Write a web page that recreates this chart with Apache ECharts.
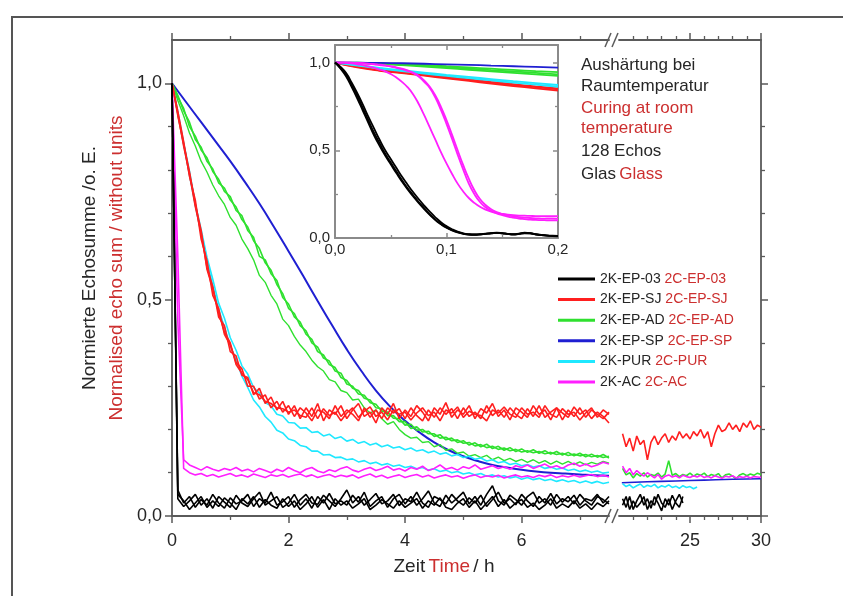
<!DOCTYPE html>
<html>
<head>
<meta charset="utf-8">
<script src="https://cdn.jsdelivr.net/npm/echarts@6/dist/echarts.min.js"></script>
<style>
  html, body { margin: 0; padding: 0; background: #ffffff; }
  #chart { width: 843px; height: 596px; }
</style>
</head>
<body>
<div id="chart"></div>
<script>
// ---- time bases (hours) ----
const tMain = [
  0.0,0.1,0.2,0.3,0.4,0.5,0.6,0.7,0.8,0.9,
  1.0,1.1,1.2,1.3,1.4,1.5,1.6,1.7,1.8,1.9,
  2.0,2.1,2.2,2.3,2.4,2.5,2.6,2.7,2.8,2.9,
  3.0,3.1,3.2,3.3,3.4,3.5,3.6,3.7,3.8,3.9,
  4.0,4.1,4.2,4.3,4.4,4.5,4.6,4.7,4.8,4.9,
  5.0,5.1,5.2,5.3,5.4,5.5,5.6,5.7,5.8,5.9,
  6.0,6.1,6.2,6.3,6.4,6.5,6.6,6.7,6.8,6.9,
  7.0,7.1,7.2,7.3,7.4,7.5];
const tCoarse = [0,0.25,0.5,0.75,1,1.25,1.5,1.75,2,2.25,2.5,2.75,3,3.25,3.5,3.75,4,4.25,4.5,4.75,5,5.25,5.5,5.75,6,6.25,6.5,6.75,7,7.25,7.5];
const tRight = [
  20.25,20.5,20.75,21,21.25,21.5,21.75,22,22.25,22.5,
  22.75,23,23.25,23.5,23.75,24,24.25,24.5,24.75,25,
  25.25,25.5,25.75,26,26.25,26.5,26.75,27,27.25,27.5,
  27.75,28,28.25,28.5,28.75,29,29.25,29.5,29.75,30];
const tRightBlue = [20.2,22,24,26,28,30];
const tInset = [
  0,0.005,0.01,0.015,0.02,0.025,0.03,0.035,0.04,0.045,
  0.05,0.055,0.06,0.065,0.07,0.075,0.08,0.085,0.09,0.095,
  0.1,0.105,0.11,0.115,0.12,0.125,0.13,0.135,0.14,0.145,
  0.15,0.155,0.16,0.165,0.17,0.175,0.18,0.185,0.19,0.195,0.2];
const tInsetCoarse = [0,0.02,0.04,0.06,0.08,0.1,0.12,0.14,0.16,0.18,0.2];

// ---- 2K-EP-03 (black) ----
const k1 = [1.0,0.06,0.03,0.045,0.02,0.038,0.025,0.05,0.03,0.018,
  0.042,0.028,0.035,0.05,0.022,0.04,0.03,0.055,0.025,0.033,
  0.045,0.02,0.038,0.05,0.03,0.027,0.048,0.035,0.022,0.04,
  0.06,0.03,0.045,0.025,0.038,0.052,0.028,0.035,0.05,0.024,
  0.04,0.033,0.055,0.03,0.02,0.045,0.038,0.028,0.05,0.035,
  0.025,0.042,0.03,0.048,0.022,0.038,0.055,0.03,0.04,0.026,
  0.05,0.035,0.022,0.045,0.03,0.052,0.028,0.04,0.033,0.048,
  0.025,0.04,0.035,0.05,0.03,0.045];
const k2 = [1.0,0.04,0.022,0.035,0.05,0.025,0.04,0.018,0.045,0.032,
  0.02,0.048,0.03,0.022,0.04,0.055,0.025,0.035,0.045,0.02,
  0.03,0.05,0.025,0.04,0.018,0.045,0.03,0.052,0.028,0.035,
  0.025,0.048,0.032,0.055,0.022,0.035,0.045,0.02,0.04,0.05,
  0.028,0.045,0.025,0.04,0.058,0.03,0.022,0.048,0.03,0.042,
  0.055,0.028,0.045,0.025,0.05,0.07,0.035,0.025,0.048,0.038,
  0.025,0.045,0.055,0.03,0.04,0.025,0.05,0.032,0.045,0.028,
  0.05,0.035,0.025,0.045,0.038,0.028];
const k3 = [1.0,0.05,0.035,0.015,0.03,0.045,0.02,0.035,0.022,0.042,
  0.03,0.015,0.04,0.028,0.045,0.02,0.038,0.025,0.018,0.04,
  0.022,0.035,0.015,0.028,0.045,0.02,0.038,0.015,0.04,0.025,
  0.035,0.018,0.028,0.04,0.015,0.025,0.038,0.028,0.018,0.035,
  0.02,0.03,0.04,0.018,0.035,0.025,0.042,0.02,0.015,0.03,
  0.04,0.02,0.035,0.015,0.03,0.045,0.022,0.038,0.018,0.03,
  0.038,0.02,0.03,0.015,0.025,0.04,0.018,0.028,0.02,0.035,
  0.018,0.028,0.015,0.03,0.022,0.035];

// ---- 2K-EP-SJ (red) ----
const r1 = [1.0,0.93,0.855,0.79,0.715,0.655,0.575,0.53,0.46,0.44,
  0.38,0.37,0.325,0.32,0.28,0.295,0.26,0.275,0.245,0.265,
  0.235,0.255,0.225,0.25,0.23,0.26,0.22,0.245,0.235,0.255,
  0.225,0.245,0.26,0.23,0.24,0.215,0.25,0.235,0.26,0.225,
  0.245,0.23,0.255,0.24,0.22,0.25,0.235,0.262,0.228,0.245,
  0.235,0.255,0.225,0.248,0.238,0.26,0.23,0.245,0.222,0.25,
  0.24,0.228,0.255,0.235,0.245,0.222,0.25,0.238,0.228,0.252,
  0.235,0.245,0.225,0.24,0.23,0.215];
const r2 = [1.0,0.935,0.865,0.785,0.73,0.64,0.59,0.51,0.48,0.42,
  0.395,0.355,0.34,0.3,0.3,0.27,0.28,0.25,0.265,0.24,
  0.255,0.23,0.25,0.238,0.22,0.245,0.24,0.225,0.255,0.23,
  0.245,0.235,0.22,0.25,0.228,0.245,0.225,0.25,0.238,0.248,
  0.225,0.25,0.232,0.22,0.245,0.228,0.25,0.235,0.248,0.225,
  0.25,0.23,0.24,0.225,0.255,0.232,0.245,0.228,0.25,0.235,
  0.225,0.248,0.23,0.255,0.228,0.24,0.25,0.222,0.245,0.23,
  0.25,0.228,0.245,0.235,0.225,0.24];
const r3 = [1.0,0.925,0.86,0.795,0.72,0.66,0.57,0.525,0.47,0.425,
  0.4,0.35,0.33,0.315,0.285,0.28,0.265,0.26,0.25,0.248,
  0.24,0.245,0.232,0.228,0.25,0.225,0.248,0.232,0.24,0.22,
  0.238,0.25,0.228,0.242,0.252,0.23,0.24,0.222,0.245,0.235,
  0.24,0.222,0.238,0.25,0.232,0.24,0.22,0.245,0.238,0.252,
  0.228,0.242,0.235,0.232,0.22,0.245,0.238,0.252,0.235,0.228,
  0.25,0.235,0.24,0.228,0.255,0.235,0.228,0.248,0.235,0.24,
  0.222,0.238,0.25,0.228,0.245,0.235];

// ---- 2K-EP-AD (green) ----
const g1 = [1.0,0.968,0.942,0.9,0.878,0.846,0.828,0.796,0.778,0.75,
  0.738,0.706,0.694,0.66,0.644,0.6,0.592,0.56,0.544,0.505,
  0.49,0.46,0.448,0.42,0.408,0.38,0.372,0.35,0.343,0.32,
  0.313,0.295,0.29,0.272,0.268,0.25,0.248,0.232,0.232,0.218,
  0.218,0.202,0.206,0.194,0.196,0.184,0.188,0.176,0.18,0.17,
  0.174,0.164,0.169,0.16,0.166,0.156,0.161,0.152,0.158,0.149,
  0.155,0.147,0.153,0.145,0.151,0.143,0.149,0.141,0.147,0.139,
  0.145,0.137,0.143,0.136,0.142,0.134];
const g2 = [1.0,0.972,0.936,0.91,0.87,0.852,0.82,0.802,0.77,0.758,
  0.73,0.714,0.685,0.668,0.636,0.618,0.585,0.568,0.535,0.514,
  0.48,0.468,0.44,0.428,0.4,0.39,0.365,0.358,0.335,0.33,
  0.305,0.3,0.282,0.279,0.262,0.258,0.242,0.24,0.226,0.225,
  0.21,0.212,0.198,0.2,0.19,0.19,0.18,0.182,0.174,0.176,
  0.168,0.17,0.162,0.165,0.158,0.161,0.154,0.157,0.151,0.154,
  0.148,0.151,0.146,0.149,0.144,0.147,0.142,0.145,0.14,0.143,
  0.139,0.142,0.137,0.14,0.135,0.138];
const g3 = [1.0,0.96,0.925,0.885,0.855,0.82,0.795,0.765,0.74,0.72,
  0.69,0.672,0.64,0.618,0.592,0.556,0.54,0.51,0.49,0.455,
  0.44,0.415,0.395,0.38,0.36,0.345,0.335,0.315,0.31,0.29,
  0.285,0.268,0.27,0.25,0.238,0.245,0.225,0.212,0.218,0.2,
  0.188,0.18,0.182,0.17,0.172,0.16,0.165,0.152,0.155,0.145,
  0.148,0.138,0.142,0.135,0.14,0.13,0.136,0.128,0.133,0.126,
  0.131,0.124,0.13,0.122,0.128,0.12,0.127,0.12,0.126,0.119,
  0.125,0.118,0.124,0.12,0.126,0.122];

// ---- 2K-EP-SP (blue) ----
const b1 = [1.0,0.955,0.91,0.865,0.82,0.772,0.722,0.668,0.612,0.555,
  0.497,0.44,0.385,0.335,0.29,0.252,0.22,0.193,0.17,0.152,
  0.138,0.127,0.118,0.112,0.107,0.103,0.1,0.098,0.096,0.094,0.093];

// ---- 2K-PUR (cyan) ----
const c1 = [1.0,0.935,0.862,0.797,0.722,0.662,0.598,0.547,0.492,0.457,
  0.412,0.383,0.347,0.328,0.297,0.284,0.262,0.254,0.235,0.231,
  0.216,0.215,0.203,0.204,0.193,0.195,0.185,0.189,0.179,0.183,
  0.173,0.177,0.168,0.172,0.164,0.168,0.16,0.164,0.157,0.16,
  0.153,0.157,0.15,0.153,0.146,0.15,0.143,0.146,0.139,0.142,
  0.135,0.138,0.131,0.134,0.127,0.13,0.123,0.126,0.119,0.122,
  0.116,0.119,0.113,0.116,0.11,0.113,0.108,0.111,0.105,0.108,
  0.103,0.106,0.101,0.104,0.099,0.101];
const c2 = [1.0,0.928,0.858,0.788,0.718,0.652,0.588,0.532,0.478,0.437,
  0.393,0.362,0.323,0.297,0.268,0.252,0.23,0.217,0.198,0.192,
  0.178,0.174,0.163,0.16,0.15,0.15,0.141,0.142,0.135,0.136,
  0.13,0.132,0.125,0.128,0.121,0.124,0.118,0.121,0.115,0.118,
  0.112,0.115,0.109,0.112,0.106,0.109,0.103,0.106,0.1,0.103,
  0.097,0.1,0.095,0.098,0.092,0.095,0.09,0.093,0.088,0.091,
  0.085,0.089,0.084,0.087,0.082,0.085,0.08,0.084,0.079,0.082,
  0.077,0.081,0.076,0.08,0.075,0.078];

// ---- 2K-AC (magenta) ----
const m1 = [1.0,0.45,0.13,0.118,0.112,0.106,0.114,0.108,0.104,0.11,
  0.106,0.112,0.104,0.108,0.102,0.11,0.105,0.1,0.108,0.103,
  0.112,0.105,0.1,0.108,0.112,0.104,0.1,0.107,0.103,0.11,
  0.114,0.106,0.102,0.108,0.112,0.105,0.109,0.115,0.106,0.11,
  0.104,0.112,0.108,0.115,0.105,0.11,0.118,0.108,0.112,0.106,
  0.114,0.11,0.118,0.108,0.112,0.116,0.11,0.114,0.108,0.116,
  0.112,0.118,0.11,0.115,0.12,0.112,0.116,0.11,0.118,0.122,
  0.115,0.12,0.114,0.118,0.124,0.12];
const m2 = [1.0,0.6,0.11,0.1,0.095,0.098,0.092,0.096,0.09,0.094,
  0.098,0.092,0.095,0.09,0.097,0.093,0.089,0.095,0.092,0.096,
  0.09,0.094,0.097,0.091,0.095,0.089,0.093,0.096,0.09,0.094,
  0.091,0.095,0.088,0.093,0.097,0.09,0.094,0.088,0.092,0.095,
  0.089,0.093,0.096,0.09,0.094,0.088,0.092,0.095,0.09,0.093,
  0.087,0.092,0.095,0.089,0.093,0.09,0.094,0.088,0.092,0.095,
  0.09,0.093,0.089,0.094,0.091,0.095,0.089,0.093,0.09,0.094,
  0.09,0.093,0.096,0.091,0.094,0.09];

// ---- long-time section (20 h - 30 h) ----
const rLate = [0.19,0.16,0.18,0.15,0.185,0.165,0.175,0.13,0.17,0.185,
  0.165,0.18,0.19,0.17,0.185,0.175,0.195,0.18,0.19,0.178,
  0.195,0.185,0.2,0.18,0.195,0.16,0.19,0.21,0.195,0.2,
  0.215,0.2,0.21,0.195,0.215,0.205,0.22,0.2,0.21,0.205];
const gLate = [0.11,0.095,0.1,0.088,0.098,0.092,0.1,0.09,0.096,0.093,
  0.099,0.09,0.097,0.128,0.094,0.098,0.091,0.096,0.093,0.099,
  0.092,0.097,0.094,0.099,0.091,0.096,0.093,0.098,0.088,0.095,
  0.097,0.092,0.086,0.095,0.098,0.093,0.097,0.094,0.099,0.096];
const mLate = [0.115,0.1,0.11,0.095,0.105,0.098,0.092,0.1,0.094,0.088,
  0.096,0.085,0.092,0.095,0.09,0.093,0.088,0.094,0.091,0.089,
  0.093,0.09,0.094,0.089,0.092,0.088,0.093,0.09,0.087,0.092,
  0.09,0.093,0.088,0.091,0.089,0.092,0.088,0.091,0.09,0.089];
const bLate = [0.077,0.079,0.081,0.083,0.085,0.086];
const cLate = [0.075,0.068,0.072,0.065,0.07,0.074,0.066,0.071,0.068,0.073,
  0.065,0.07,0.067,0.072,0.066,0.069,0.064,0.07,0.066,0.068,0.063,0.067];
const kLate1 = [0.04,0.02,0.045,0.015,0.035,0.05,0.025,0.04,0.018,0.045,
  0.03,0.012,0.04,0.025,0.048,0.03,0.02,0.045];
const kLate2 = [0.025,0.045,0.015,0.035,0.02,0.03,0.045,0.015,0.035,0.025,
  0.05,0.03,0.02,0.04,0.015,0.035,0.05,0.03];

// ---- inset: first 0.2 h ----
const ik1 = [1.0,0.97,0.93,0.87,0.81,0.74,0.67,0.6,0.54,0.48,
  0.43,0.38,0.33,0.285,0.245,0.205,0.17,0.135,0.105,0.08,
  0.06,0.045,0.033,0.025,0.02,0.02,0.022,0.025,0.028,0.03,
  0.028,0.024,0.022,0.025,0.03,0.028,0.022,0.018,0.015,0.013,0.012];
const ik2 = [1.0,0.975,0.94,0.885,0.825,0.76,0.69,0.625,0.56,0.5,
  0.45,0.4,0.35,0.305,0.262,0.222,0.185,0.15,0.118,0.09,
  0.068,0.05,0.036,0.027,0.022,0.02,0.021,0.024,0.027,0.029,
  0.027,0.023,0.021,0.024,0.028,0.027,0.021,0.017,0.014,0.012,0.011];
const ik3 = [1.0,0.965,0.92,0.86,0.795,0.725,0.655,0.585,0.525,0.47,
  0.42,0.37,0.322,0.278,0.238,0.2,0.165,0.132,0.102,0.078,
  0.058,0.043,0.032,0.024,0.019,0.018,0.02,0.024,0.026,0.029,
  0.026,0.023,0.02,0.023,0.027,0.026,0.02,0.016,0.013,0.011,0.01];
const im1 = [1.0,1.0,0.998,0.995,0.99,0.985,0.978,0.97,0.96,0.95,
  0.935,0.915,0.89,0.86,0.82,0.765,0.7,0.63,0.56,0.49,
  0.425,0.365,0.31,0.265,0.228,0.2,0.178,0.162,0.15,0.142,
  0.137,0.133,0.13,0.128,0.127,0.126,0.125,0.125,0.124,0.124,0.124];
const im2 = [1.0,1.0,1.0,0.998,0.997,0.995,0.993,0.99,0.986,0.982,
  0.977,0.97,0.962,0.952,0.94,0.92,0.89,0.855,0.8,0.73,
  0.65,0.565,0.475,0.39,0.31,0.25,0.205,0.175,0.155,0.14,
  0.13,0.122,0.116,0.111,0.108,0.105,0.103,0.102,0.101,0.1,0.1];
const im3 = [1.0,1.0,1.0,0.999,0.998,0.996,0.994,0.991,0.988,0.984,
  0.979,0.973,0.965,0.955,0.943,0.925,0.898,0.862,0.812,0.748,
  0.672,0.588,0.5,0.415,0.338,0.272,0.222,0.188,0.164,0.148,
  0.137,0.129,0.123,0.119,0.116,0.114,0.112,0.111,0.11,0.11,0.109];
const ir1 = [1.0,0.972,0.953,0.94,0.925,0.91,0.895,0.88,0.866,0.853,0.84];
const ir2 = [1.0,0.978,0.96,0.946,0.932,0.918,0.904,0.89,0.877,0.864,0.852];
const ir3 = [1.0,0.975,0.956,0.943,0.929,0.914,0.9,0.886,0.872,0.86,0.847];
const ic1 = [1.0,0.985,0.97,0.956,0.943,0.93,0.918,0.906,0.894,0.883,0.872];
const ic2 = [1.0,0.982,0.966,0.951,0.937,0.924,0.911,0.898,0.886,0.874,0.862];
const ig1 = [1.0,0.999,0.996,0.992,0.986,0.979,0.972,0.965,0.958,0.951,0.945];
const ig2 = [1.0,0.997,0.992,0.985,0.977,0.968,0.959,0.95,0.941,0.932,0.924];
const ig3 = [1.0,0.998,0.994,0.989,0.982,0.974,0.966,0.957,0.949,0.941,0.933];
const ib1 = [1.0,0.999,0.998,0.996,0.993,0.99,0.987,0.983,0.979,0.975,0.971];

// ---- sample names and colours ----
const names = ['2K-EP-03','2K-EP-SJ','2K-EP-AD','2K-EP-SP','2K-PUR','2K-AC'];
const colours = {'2K-EP-03':'#000000','2K-EP-SJ':'#ff1f1f','2K-EP-AD':'#2fe02f',
  '2K-EP-SP':'#1f1fd2','2K-PUR':'#1fe8ff','2K-AC':'#ff1fff'};

const font = '"Liberation Sans", Arial, Helvetica, sans-serif';
const ink = '#262626';
const inkRed = '#cc2f2f';
const axisCol = '#5a5a5a';
const insetCol = '#8a8a8a';
const comma = (v, d) => v.toFixed(d).replace('.', ',');

// axis index pairs [x, y]
const MAIN = [0, 0], LATE = [2, 1], INSET = [4, 2];

function curve(name, axes, ts, vs, width, smooth) {
  const color = colours[name];
  return {
    type: 'line', name: name,
    xAxisIndex: axes[0], yAxisIndex: axes[1],
    data: vs.map((v, i) => [ts[i], v]),
    symbol: 'none', showSymbol: false, smooth: !!smooth,
    lineStyle: { color: color, width: width },
    itemStyle: { color: color },
    emphasis: { disabled: true }, silent: true, animation: false
  };
}

const series = [
  // main, 0 - 7.5 h
  curve('2K-EP-SP', MAIN, tCoarse, b1, 2, true),
  curve('2K-EP-AD', MAIN, tMain, g3, 1.4),
  curve('2K-EP-AD', MAIN, tMain, g1, 1.6),
  curve('2K-EP-AD', MAIN, tMain, g2, 1.6),
  curve('2K-PUR', MAIN, tMain, c1, 1.6),
  curve('2K-PUR', MAIN, tMain, c2, 1.6),
  curve('2K-EP-SJ', MAIN, tMain, r1, 1.6),
  curve('2K-EP-SJ', MAIN, tMain, r2, 1.6),
  curve('2K-EP-SJ', MAIN, tMain, r3, 1.6),
  curve('2K-AC', MAIN, tMain, m1, 1.6),
  curve('2K-AC', MAIN, tMain, m2, 1.6),
  curve('2K-EP-03', MAIN, tMain, k1, 1.6),
  curve('2K-EP-03', MAIN, tMain, k2, 1.6),
  curve('2K-EP-03', MAIN, tMain, k3, 1.6),
  // long-time section
  curve('2K-EP-SJ', LATE, tRight, rLate, 1.6),
  curve('2K-EP-AD', LATE, tRight, gLate, 1.6),
  curve('2K-EP-SP', LATE, tRightBlue, bLate, 1.6, true),
  curve('2K-AC', LATE, tRight, mLate, 1.6),
  curve('2K-PUR', LATE, tRight, cLate, 1.6),
  curve('2K-EP-03', LATE, tRight, kLate1, 1.6),
  curve('2K-EP-03', LATE, tRight, kLate2, 1.6),
  // inset
  curve('2K-EP-SJ', INSET, tInsetCoarse, ir1, 1.8, true),
  curve('2K-EP-SJ', INSET, tInsetCoarse, ir2, 1.8, true),
  curve('2K-EP-SJ', INSET, tInsetCoarse, ir3, 1.8, true),
  curve('2K-PUR', INSET, tInsetCoarse, ic1, 1.8, true),
  curve('2K-PUR', INSET, tInsetCoarse, ic2, 1.8, true),
  curve('2K-EP-AD', INSET, tInsetCoarse, ig1, 1.8, true),
  curve('2K-EP-AD', INSET, tInsetCoarse, ig2, 1.8, true),
  curve('2K-EP-AD', INSET, tInsetCoarse, ig3, 1.8, true),
  curve('2K-EP-SP', INSET, tInsetCoarse, ib1, 1.8, true),
  curve('2K-AC', INSET, tInset, im1, 1.8, true),
  curve('2K-AC', INSET, tInset, im2, 1.8, true),
  curve('2K-AC', INSET, tInset, im3, 1.8, true),
  curve('2K-EP-03', INSET, tInset, ik1, 1.8, true),
  curve('2K-EP-03', INSET, tInset, ik2, 1.8, true),
  curve('2K-EP-03', INSET, tInset, ik3, 1.8, true)
];

const mainLine = { show: true, onZero: false, lineStyle: { color: axisCol, width: 1.8 } };
const mainTick = (vals) => ({ show: true, length: 7, customValues: vals, lineStyle: { color: axisCol, width: 1.5 } });
const mainMinor = (n) => ({ show: true, splitNumber: n, length: 4, lineStyle: { color: axisCol, width: 1.3 } });
const insetLine = { show: true, onZero: false, lineStyle: { color: insetCol, width: 2 } };
const insetTick = (vals) => ({ show: true, inside: true, length: 5, customValues: vals, lineStyle: { color: insetCol, width: 1.5 } });
const insetMinor = { show: true, splitNumber: 2, length: 3, lineStyle: { color: insetCol, width: 1.3 } };
const noLabel = { show: false };
const noSplit = { show: false };

const option = {
  animation: false,
  backgroundColor: '#ffffff',
  textStyle: { fontFamily: font },
  grid: [
    { left: 172, top: 40, width: 437, height: 476 },
    { left: 619, top: 40, width: 142, height: 476 },
    { left: 335, top: 45, width: 223, height: 193, show: true, backgroundColor: '#ffffff', borderWidth: 0 }
  ],
  xAxis: [
    { gridIndex: 0, type: 'value', position: 'bottom', min: 0, max: 7.5, interval: 2,
      axisLine: mainLine, axisTick: mainTick([0, 2, 4, 6]), minorTick: mainMinor(2),
      axisLabel: { fontSize: 18, color: ink, margin: 16, fontFamily: font, customValues: [0, 2, 4, 6] },
      splitLine: noSplit },
    { gridIndex: 0, type: 'value', position: 'top', min: 0, max: 7.5, interval: 2,
      axisLine: mainLine, axisTick: mainTick([0, 2, 4, 6]), minorTick: mainMinor(2),
      axisLabel: noLabel, splitLine: noSplit },
    { gridIndex: 1, type: 'value', position: 'bottom', min: 20, max: 30, interval: 5,
      axisLine: mainLine, axisTick: mainTick([25, 30]), minorTick: mainMinor(5),
      axisLabel: { fontSize: 18, color: ink, margin: 16, fontFamily: font, customValues: [25, 30] },
      splitLine: noSplit },
    { gridIndex: 1, type: 'value', position: 'top', min: 20, max: 30, interval: 5,
      axisLine: mainLine, axisTick: mainTick([25, 30]), minorTick: mainMinor(5),
      axisLabel: noLabel, splitLine: noSplit },
    { gridIndex: 2, type: 'value', position: 'bottom', min: 0, max: 0.2, interval: 0.1,
      axisLine: insetLine, axisTick: insetTick([0, 0.1, 0.2]), minorTick: insetMinor,
      axisLabel: { fontSize: 15, color: ink, margin: 4, fontFamily: font, formatter: v => comma(v, 1) },
      splitLine: noSplit },
    { gridIndex: 2, type: 'value', position: 'top', min: 0, max: 0.2, interval: 0.1,
      axisLine: insetLine, axisTick: insetTick([0, 0.1, 0.2]), minorTick: insetMinor,
      axisLabel: noLabel, splitLine: noSplit }
  ],
  yAxis: [
    { gridIndex: 0, type: 'value', position: 'left', min: 0, max: 1.1, interval: 0.5,
      axisLine: mainLine, axisTick: mainTick([0, 0.5, 1]), minorTick: mainMinor(5),
      axisLabel: { fontSize: 18, color: ink, margin: 10, fontFamily: font, customValues: [0, 0.5, 1], formatter: v => comma(v, 1) },
      splitLine: noSplit },
    { gridIndex: 1, type: 'value', position: 'right', min: 0, max: 1.1, interval: 0.5,
      axisLine: mainLine, axisTick: mainTick([0, 0.5, 1]), minorTick: mainMinor(5),
      axisLabel: noLabel, splitLine: noSplit },
    { gridIndex: 2, type: 'value', position: 'left', min: 0, max: 1.1, interval: 0.5,
      axisLine: insetLine, axisTick: insetTick([0, 0.5, 1]), minorTick: insetMinor,
      axisLabel: { fontSize: 15, color: ink, margin: 5, fontFamily: font, customValues: [0, 0.5, 1], formatter: v => comma(v, 1) },
      splitLine: noSplit },
    { gridIndex: 2, type: 'value', position: 'right', min: 0, max: 1.1, interval: 0.5,
      axisLine: insetLine, axisTick: insetTick([0, 0.5, 1]), minorTick: insetMinor,
      axisLabel: noLabel, splitLine: noSplit }
  ],
  legend: {
    orient: 'vertical', left: 558, top: 271, padding: 0,
    itemGap: 4.6, itemWidth: 37, itemHeight: 3, icon: 'rect',
    data: names,
    formatter: n => '{a|' + n + '} {b|' + n.replace('2K', '2C') + '}',
    textStyle: {
      fontSize: 14, fontFamily: font, color: ink, lineHeight: 16,
      rich: {
        a: { fontSize: 14, fontFamily: font, color: ink, lineHeight: 16 },
        b: { fontSize: 14, fontFamily: font, color: inkRed, lineHeight: 16 }
      }
    }
  },
  graphic: [
    // outer frame
    { type: 'rect', silent: true, z: -1, shape: { x: 12, y: 17, width: 900, height: 700 },
      style: { fill: 'none', stroke: '#555555', lineWidth: 2 } },
    // axis break marks
    { type: 'line', silent: true, shape: { x1: 605, y1: 47, x2: 611, y2: 33 }, style: { stroke: axisCol, lineWidth: 1.5 } },
    { type: 'line', silent: true, shape: { x1: 612, y1: 47, x2: 618, y2: 33 }, style: { stroke: axisCol, lineWidth: 1.5 } },
    { type: 'line', silent: true, shape: { x1: 605, y1: 523, x2: 611, y2: 509 }, style: { stroke: axisCol, lineWidth: 1.5 } },
    { type: 'line', silent: true, shape: { x1: 612, y1: 523, x2: 618, y2: 509 }, style: { stroke: axisCol, lineWidth: 1.5 } },
    // y-axis title (German / English)
    { type: 'text', silent: true, x: 103, y: 268, rotation: Math.PI / 2,
      style: { text: '{a|Normierte Echosumme /o. E.}\n{b|Normalised echo sum / without units}',
        align: 'center', verticalAlign: 'middle',
        rich: { a: { fill: ink, fontSize: 19, fontFamily: font, lineHeight: 27, align: 'center' },
                b: { fill: inkRed, fontSize: 19, fontFamily: font, lineHeight: 27, align: 'center' } } } },
    // x-axis title
    { type: 'text', silent: true, x: 444, y: 567,
      style: { text: '{a|Zeit} {b|Time} {a|/ h}', align: 'center', verticalAlign: 'middle',
        rich: { a: { fill: ink, fontSize: 19, fontFamily: font }, b: { fill: inkRed, fontSize: 19, fontFamily: font } } } },
    // measurement conditions
    { type: 'text', silent: true, x: 581, y: 65, style: { text: 'Aushärtung bei', fill: ink, fontSize: 17, fontFamily: font, verticalAlign: 'middle' } },
    { type: 'text', silent: true, x: 581, y: 86, style: { text: 'Raumtemperatur', fill: ink, fontSize: 17, fontFamily: font, verticalAlign: 'middle' } },
    { type: 'text', silent: true, x: 581, y: 108, style: { text: 'Curing at room', fill: inkRed, fontSize: 17, fontFamily: font, verticalAlign: 'middle' } },
    { type: 'text', silent: true, x: 581, y: 128, style: { text: 'temperature', fill: inkRed, fontSize: 17, fontFamily: font, verticalAlign: 'middle' } },
    { type: 'text', silent: true, x: 581, y: 151, style: { text: '128 Echos', fill: ink, fontSize: 17, fontFamily: font, verticalAlign: 'middle' } },
    { type: 'text', silent: true, x: 581, y: 174,
      style: { text: '{a|Glas} {b|Glass}', verticalAlign: 'middle',
        rich: { a: { fill: ink, fontSize: 17, fontFamily: font }, b: { fill: inkRed, fontSize: 17, fontFamily: font } } } }
  ],
  series: series
};

const chart = echarts.init(document.getElementById('chart'), null, { renderer: 'canvas' });
chart.setOption(option);
</script>
</body>
</html>
